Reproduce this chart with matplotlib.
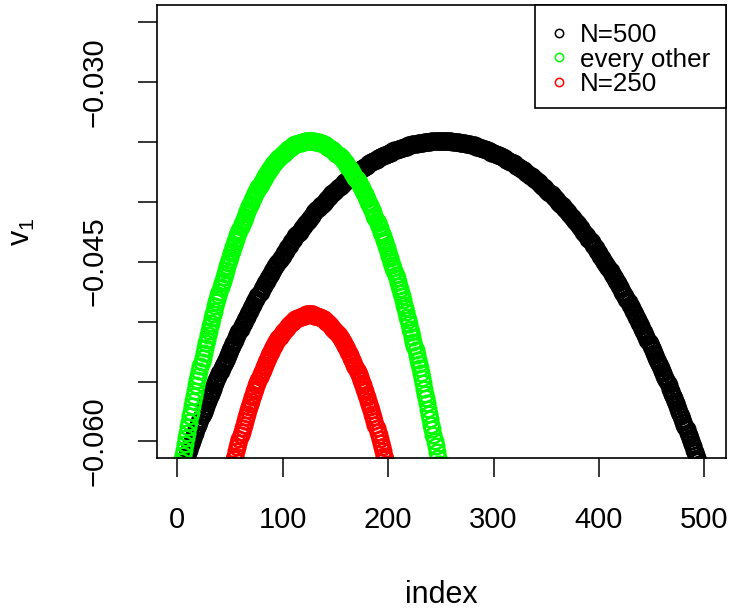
import numpy as np
import matplotlib
matplotlib.use('Agg')
import matplotlib.pyplot as plt

plt.rcParams['font.family'] = ['Liberation Sans', 'DejaVu Sans']
plt.rcParams['mathtext.fontset'] = 'custom'
plt.rcParams['mathtext.rm'] = 'Liberation Sans'

# v_1, in units of 1e-4 and with the sign dropped.
# first half of the N=500 vector (index 1..250); the vector is symmetric
half500 = [631, 629, 626, 624, 621, 619, 616, 614, 611, 609,
           607, 604, 602, 600, 597, 595, 593, 590, 588, 586,
           584, 581, 579, 577, 575, 573, 570, 568, 566, 564,
           562, 560, 558, 556, 553, 551, 549, 547, 545, 543,
           541, 539, 537, 535, 534, 532, 530, 528, 526, 524,
           522, 520, 518, 517, 515, 513, 511, 509, 508, 506,
           504, 502, 501, 499, 497, 496, 494, 492, 491, 489,
           487, 486, 484, 482, 481, 479, 478, 476, 475, 473,
           471, 470, 468, 467, 466, 464, 463, 461, 460, 458,
           457, 455, 454, 453, 451, 450, 449, 447, 446, 445,
           443, 442, 441, 439, 438, 437, 436, 434, 433, 432,
           431, 429, 428, 427, 426, 425, 424, 422, 421, 420,
           419, 418, 417, 416, 415, 414, 413, 412, 410, 409,
           408, 407, 406, 405, 404, 403, 403, 402, 401, 400,
           399, 398, 397, 396, 395, 394, 393, 393, 392, 391,
           390, 389, 388, 388, 387, 386, 385, 384, 384, 383,
           382, 381, 381, 380, 379, 379, 378, 377, 376, 376,
           375, 374, 374, 373, 373, 372, 371, 371, 370, 370,
           369, 368, 368, 367, 367, 366, 366, 365, 365, 364,
           364, 363, 363, 362, 362, 361, 361, 361, 360, 360,
           359, 359, 359, 358, 358, 357, 357, 357, 356, 356,
           356, 355, 355, 355, 354, 354, 354, 354, 353, 353,
           353, 353, 352, 352, 352, 352, 352, 351, 351, 351,
           351, 351, 351, 350, 350, 350, 350, 350, 350, 350,
           349, 349, 349, 349, 349, 349, 349, 349, 349, 349]

# first half of the N=250 vector (index 1..125)
half250 = [891, 884, 877, 870, 863, 856, 850, 843, 837, 830,
           824, 817, 811, 805, 799, 793, 787, 781, 775, 770,
           764, 759, 753, 748, 742, 737, 732, 727, 722, 717,
           712, 707, 702, 697, 693, 688, 683, 679, 674, 670,
           666, 661, 657, 653, 649, 645, 641, 637, 633, 630,
           626, 622, 619, 615, 612, 608, 605, 601, 598, 595,
           592, 589, 586, 583, 580, 577, 574, 571, 569, 566,
           563, 561, 558, 556, 553, 551, 549, 546, 544, 542,
           540, 538, 536, 534, 532, 530, 528, 526, 525, 523,
           521, 520, 518, 517, 515, 514, 513, 511, 510, 509,
           508, 507, 506, 505, 504, 503, 502, 501, 500, 500,
           499, 498, 498, 497, 497, 496, 496, 495, 495, 495,
           495, 494, 494, 494, 494]

v500 = -np.array(half500 + half500[::-1]) * 1e-4
v250 = -np.array(half250 + half250[::-1]) * 1e-4
every_other = v500[::2]

series_x = [np.arange(1, len(v500) + 1), np.arange(1, len(every_other) + 1),
            np.arange(1, len(v250) + 1)]
series_y = [v500, every_other, v250]
labels = ['N=500', 'every other', 'N=250']
colors = ['black', '#00ff00', '#ff0000']

xticks = [0, 100, 200, 300, 400, 500]
yticks = [-0.060, -0.055, -0.050, -0.045, -0.040, -0.035, -0.030, -0.025]
ytick_labels = ['\u22120.060', '', '', '\u22120.045', '', '', '\u22120.030', '']

fig = plt.figure(figsize=(7.33, 6.12), dpi=100)
ax = fig.add_axes([0.2138, 0.2512, 0.7767, 0.7406])

for x, y, c in zip(series_x, series_y, colors):
    ax.plot(x, y, 'o', mfc='none', mec=c, ms=11.2, mew=1.8)

ax.set_xlim(-19.5, 520.5)
ax.set_ylim(-0.0614, -0.0236)
ax.set_xticks(xticks)
ax.set_xticklabels([str(t) for t in xticks])
ax.set_yticks(yticks)
ax.set_yticklabels(ytick_labels)
ax.tick_params(direction='out', length=14, width=1.1, labelsize=21, pad=20.5)
for t in ax.get_yticklabels():
    t.set_rotation(90)
    t.set_va('center')
for s in ax.spines.values():
    s.set_linewidth(1.2)

ax.set_xlabel('index', fontsize=22)
ax.xaxis.label.set_va('baseline')
ax.xaxis.set_label_coords(0.5, -0.32)
ax.set_ylabel(r'$\mathregular{v_1}$', fontsize=22)
ax.yaxis.label.set_va('baseline')
ax.yaxis.set_label_coords(-0.222, 0.5)

# key box in the top right corner, R style
key_left, key_bottom = 0.6645, 0.7721
ax.add_patch(plt.Rectangle((key_left, key_bottom), 1 - key_left, 1 - key_bottom,
                           transform=ax.transAxes, facecolor='white',
                           edgecolor='black', lw=1.2, zorder=5, clip_on=False))
row_mark_y = [0.9389, 0.8844, 0.8301]
row_text_y = [0.9184, 0.8639, 0.8096]
for ym, yt, c, lab in zip(row_mark_y, row_text_y, colors, labels):
    ax.plot([0.7067], [ym], 'o', mfc='none', mec=c, ms=6, mew=1.1,
            transform=ax.transAxes, zorder=6, clip_on=False)
    ax.text(0.7436, yt, lab, transform=ax.transAxes, va='baseline',
            ha='left', fontsize=18.7, zorder=6)

fig.savefig('out.png', dpi=100)
